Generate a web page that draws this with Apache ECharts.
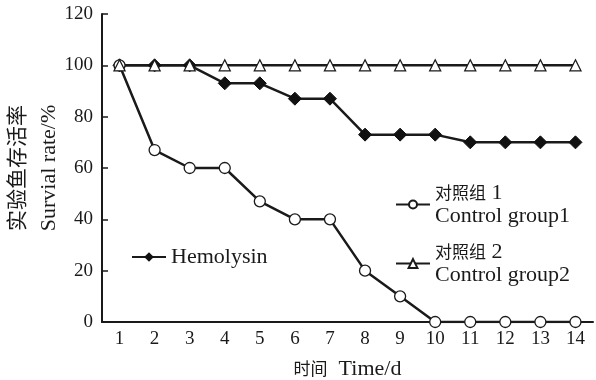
<!DOCTYPE html>
<html><head><meta charset="utf-8">
<script src="https://cdn.jsdelivr.net/npm/echarts@6/dist/echarts.min.js"></script>
<style>html,body{margin:0;padding:0;background:#fff}#c{width:596px;height:380px}</style>
</head><body><div id="c"></div>
<script>
const days = ['1','2','3','4','5','6','7','8','9','10','11','12','13','14'];
const hemolysin = [100,100,100,93,93,87,87,73,73,73,70,70,70,70];
const control1 = [100,67,60,60,47,40,40,20,10,0,0,0,0,0];
const control2 = [100,100,100,100,100,100,100,100,100,100,100,100,100,100];
const yTicks = [0,20,40,60,80,100,120];
const names = ['Hemolysin', '对照组 1\nControl group1', '对照组 2\nControl group2'];

const SERIF = "'Liberation Serif', 'Noto Sans CJK SC', serif";
const CJK = "'Noto Sans CJK SC', 'Liberation Serif', sans-serif";
const INK = '#1a1a1a';
const chart = echarts.init(document.getElementById('c'));
const lineStyle = {color:INK, width:2.5};
const legendRich = {
  cn:{fontFamily:CJK, fontSize:17, color:INK, lineHeight:23},
  en:{fontFamily:SERIF, fontSize:22, color:INK, lineHeight:23}
};
function legendFmt(n){
  const parts = n.split('\n');
  const cn = parts[0].replace(/ (\d)$/, '');
  const num = parts[0].slice(-1);
  return '{cn|' + cn + '}{en| ' + num + '}\n{en|' + parts[1] + '}';
}
chart.setOption({
  animation:false,
  textStyle:{fontFamily:SERIF},
  grid:{left:102, right:3, top:14, bottom:58, outerBoundsMode:'none', containLabel:false},
  xAxis:{
    type:'category', data:days, boundaryGap:true,
    name:'{cn|时间}{en|  Time/d}', nameLocation:'middle', nameGap:36,
    nameTextStyle:{rich:{cn:{fontFamily:CJK, fontSize:17, color:INK}, en:{fontFamily:SERIF, fontSize:22, color:INK}}},
    axisLine:{lineStyle:{color:INK, width:2}},
    axisTick:{inside:true, length:6, lineStyle:{color:INK, width:1.5}},
    axisLabel:{fontFamily:SERIF, fontSize:19, color:INK, margin:8},
    splitLine:{show:false}
  },
  yAxis:{
    type:'value', min:yTicks[0], max:yTicks[yTicks.length-1], interval:20,
    name:'{cn|实验鱼存活率}\n{en|Survial rate/%}', nameLocation:'middle', nameGap:36, nameRotate:90,
    nameMoveOverlap:false,
    nameTextStyle:{rich:{cn:{fontFamily:CJK, fontSize:21, color:INK, lineHeight:33}, en:{fontFamily:SERIF, fontSize:22, color:INK, lineHeight:33}}},
    axisLine:{show:true, lineStyle:{color:INK, width:2}},
    axisTick:{show:true, inside:true, length:6, lineStyle:{color:INK, width:1.5}},
    axisLabel:{fontFamily:SERIF, fontSize:19, color:INK, margin:9},
    splitLine:{show:false}
  },
  legend:[
    {data:[names[0]], left:126, top:241, itemWidth:34, itemHeight:12,
     textStyle:{fontFamily:SERIF, fontSize:22, color:INK}},
    {data:[names[1]], left:390, top:177, itemWidth:34, itemHeight:10,
     formatter:legendFmt, textStyle:{rich:legendRich}},
    {data:[names[2]], left:390, top:236, itemWidth:34, itemHeight:11,
     formatter:legendFmt, textStyle:{rich:legendRich}}
  ],
  series:[
    {name:names[0], type:'line', data:hemolysin, symbol:'diamond', symbolSize:13,
     itemStyle:{color:'#111', borderColor:'#111'}, lineStyle:lineStyle},
    {name:names[1], type:'line', data:control1, symbol:'circle', symbolSize:11,
     itemStyle:{color:'#fff', borderColor:INK, borderWidth:1.3}, lineStyle:lineStyle},
    {name:names[2], type:'line', data:control2, symbol:'triangle', symbolSize:11,
     itemStyle:{color:'#fff', borderColor:INK, borderWidth:1.3}, lineStyle:lineStyle}
  ]
});
</script></body></html>
